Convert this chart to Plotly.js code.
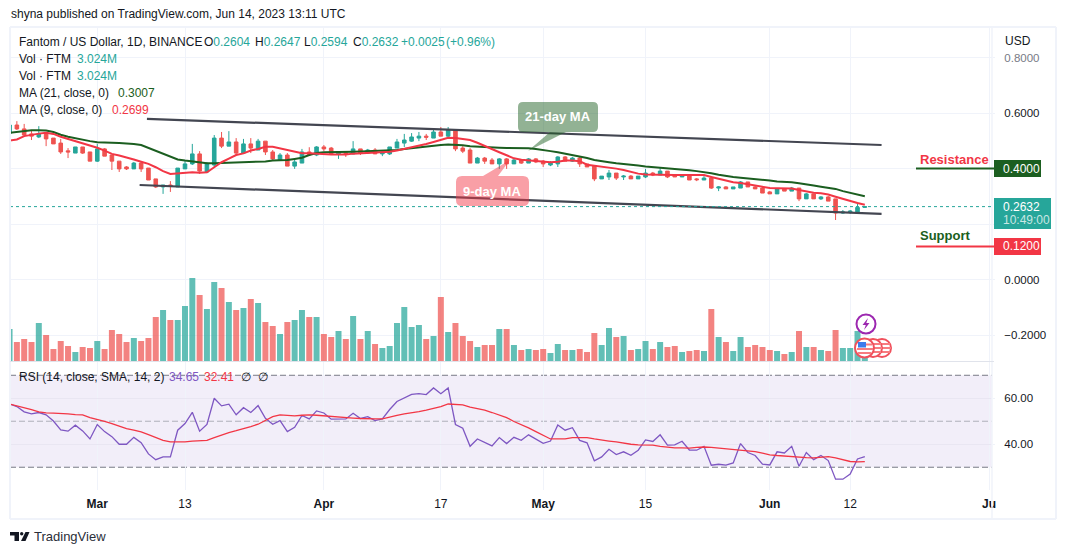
<!DOCTYPE html>
<html><head><meta charset="utf-8">
<script src="https://cdn.plot.ly/plotly-3.0.1.min.js"></script>
<style>html,body{margin:0;padding:0;background:#fff}#c{width:1066px;height:554px}</style>
</head><body><div id="c"></div>
<script>
const startDate = '2023-02-17';
const openP = [.527,.557,.543,.525,.514,.525,.510,.492,.464,.456,.478,.460,.427,.471,.449,.427,.406,.399,.420,.402,.363,.334,.341,.334,.399,.417,.453,.388,.413,.510,.481,.496,.456,.489,.467,.499,.460,.431,.449,.409,.420,.460,.449,.478,.474,.453,.457,.453,.471,.456,.467,.453,.453,.474,.492,.499,.510,.517,.510,.532,.517,.539,.474,.467,.420,.438,.431,.417,.435,.417,.431,.420,.435,.427,.413,.417,.442,.427,.438,.417,.409,.363,.370,.384,.370,.373,.363,.370,.384,.377,.391,.377,.370,.377,.363,.359,.366,.330,.334,.327,.330,.352,.334,.330,.316,.309,.327,.319,.330,.291,.309,.291,.298,.291,.240,.243,.244,.2604];
const highP = [.557,.571,.561,.539,.553,.525,.510,.507,.474,.478,.478,.460,.489,.474,.449,.427,.409,.424,.424,.402,.363,.341,.355,.402,.431,.489,.463,.424,.521,.532,.535,.510,.507,.510,.507,.499,.467,.456,.456,.438,.471,.477,.481,.485,.478,.463,.460,.499,.471,.471,.474,.463,.478,.507,.525,.528,.532,.525,.543,.550,.550,.539,.481,.474,.442,.442,.438,.438,.438,.438,.435,.438,.438,.431,.427,.445,.445,.442,.442,.417,.413,.373,.395,.384,.377,.377,.373,.399,.388,.402,.391,.377,.377,.377,.366,.373,.373,.337,.337,.334,.355,.352,.337,.334,.319,.327,.330,.334,.330,.312,.309,.301,.301,.291,.251,.251,.273,.2647];
const lowP = [.525,.539,.515,.503,.510,.481,.489,.453,.438,.456,.453,.427,.424,.445,.395,.388,.395,.399,.388,.359,.330,.309,.316,.334,.399,.413,.381,.384,.406,.474,.481,.449,.453,.456,.467,.449,.431,.431,.409,.399,.420,.447,.445,.463,.449,.435,.442,.453,.449,.453,.453,.445,.449,.474,.478,.496,.499,.503,.510,.517,.507,.463,.456,.420,.420,.417,.417,.399,.399,.417,.417,.420,.420,.406,.409,.406,.427,.424,.406,.406,.355,.363,.359,.359,.359,.363,.363,.366,.373,.377,.366,.370,.370,.359,.355,.359,.327,.319,.327,.327,.330,.334,.327,.312,.309,.309,.319,.319,.283,.291,.291,.287,.283,.215,.237,.237,.244,.2594];
const closeP = [.557,.543,.521,.517,.525,.507,.489,.460,.460,.478,.456,.427,.471,.445,.427,.399,.399,.420,.399,.359,.334,.341,.337,.402,.417,.453,.391,.417,.510,.481,.496,.456,.489,.474,.499,.460,.435,.449,.409,.424,.460,.450,.478,.471,.453,.460,.453,.471,.456,.467,.453,.460,.478,.496,.503,.514,.517,.513,.532,.517,.539,.471,.463,.420,.438,.427,.417,.435,.417,.431,.420,.435,.424,.417,.420,.442,.427,.438,.417,.406,.363,.373,.384,.366,.373,.363,.373,.384,.377,.391,.370,.370,.377,.359,.360,.366,.330,.334,.327,.334,.352,.334,.327,.312,.309,.327,.319,.330,.291,.309,.291,.298,.283,.240,.244,.247,.2604,.2632];
const volumeM = [8,4.75,5.5,4.75,9.5,6.5,3,5,3.75,2.25,3.5,3.25,5,3,7.75,6.75,4.75,5.75,5,5.75,11,12.75,10.25,10.25,13.75,20.75,16.5,13,19.75,18.25,14.75,12.75,13.25,15.5,14.5,9.75,8.75,6.75,9.75,10.25,12.75,11,11,6.75,6,7.5,5.5,11.25,5.5,7.5,4.25,3.25,3.75,9.5,13.5,8.5,9,5.5,6.25,16,7.25,9.5,6.25,5,3.5,4,4,8,8,4,2.75,3,2.75,3,2,4.25,2.75,2.75,3,2.25,7,4,8.25,6,6.25,2.75,3,5,3,4.75,3.5,3.75,2.25,2.5,2.75,2.5,13,6,4.75,2.5,6,3.5,4,3.5,2.75,2.5,1.75,2.25,7.5,3.5,3.5,2.75,2.5,7.75,3.25,3.25,7.5,3.024];
const ma21 = [.529,.532,.537,.538,.538,.537,.532,.522,.515,.509,.505,.499,.495,.493,.493,.492,.491,.489,.485,.475,.465,.455,.443,.433,.429,.425,.421,.419,.419,.420,.420,.421,.423,.425,.425,.426,.429,.429,.431,.435,.439,.449,.456,.459,.459,.459,.460,.461,.462,.463,.463,.465,.465,.467,.471,.474,.478,.480,.483,.485,.487,.486,.484,.481,.479,.478,.477,.475,.474,.474,.473,.473,.471,.468,.463,.459,.454,.450,.445,.438,.431,.426,.423,.419,.417,.413,.411,.408,.406,.403,.401,.399,.396,.394,.391,.388,.383,.378,.373,.370,.367,.365,.363,.359,.357,.354,.353,.351,.347,.342,.339,.335,.331,.327,.319,.313,.307,.3007];
const ma9 = [.501,.505,.517,.522,.526,.529,.525,.515,.507,.501,.493,.483,.475,.465,.453,.447,.441,.433,.425,.417,.405,.391,.381,.383,.385,.387,.385,.387,.405,.423,.436,.449,.455,.465,.471,.479,.479,.473,.467,.459,.455,.455,.453,.453,.451,.451,.451,.454,.455,.456,.457,.459,.461,.465,.471,.475,.481,.489,.496,.503,.511,.510,.507,.503,.493,.481,.471,.459,.448,.437,.432,.430,.429,.425,.423,.425,.429,.429,.427,.414,.411,.407,.403,.400,.395,.389,.382,.379,.378,.377,.377,.377,.377,.377,.377,.377,.370,.363,.357,.351,.348,.343,.340,.334,.330,.329,.329,.328,.323,.318,.313,.311,.307,.299,.291,.282,.276,.2699];
const rsi = [57.5,56.4,54.1,53.2,53.8,52.8,50.1,46.2,45.7,48.3,45.8,42.3,48.6,45.5,43.3,40,40,43.0,40.7,35.8,33.3,34.5,34.5,46.1,49.0,53.9,45.7,48.6,60,56.7,57.4,52.8,55.9,53.8,56.8,51.3,48.7,50.3,45.5,47.4,52.5,51.0,54.5,53.6,50.9,51.0,51.0,53.5,51.2,52.0,50.3,51.0,55.1,58.6,60,61.7,62.0,61.6,64.5,62.0,64.5,48.6,47.0,39.1,42.3,40.9,39.3,42.9,40.3,43.0,41.7,44.1,42.3,40.4,41.4,48.4,46.1,47.2,41.7,40.6,32.8,34.5,37.8,35.5,36.7,35.2,37.4,41.9,41.2,44.1,39.6,39.7,41.3,37.5,37.4,39.1,30.9,31.3,30.9,31.9,40.3,36.4,35.1,31.3,31.0,36.7,36.2,39.1,30.4,36.4,33.3,35.1,32.9,24.8,24.8,27.0,33.6,34.65];
const rsiMa = [57.5,56.8,55.8,55.1,54.1,53.6,53.5,53.5,53.2,52.9,52.8,51.6,50.6,49.9,49.0,47.8,46.8,46.1,45.4,44.2,42.8,41.7,41.0,40.9,41.0,41.4,41.7,41.7,42.9,44.1,45.1,45.9,46.7,47.7,48.7,50.3,52.0,52.8,52.6,52.3,52.6,52.8,52.6,52.3,52.0,51.7,51.6,51.4,51.2,51.0,51.0,51.0,51.9,52.6,53.2,53.6,54.2,54.8,55.5,56.4,57.5,57.4,57.1,56.1,55.5,54.8,53.8,52.8,51.6,49.9,48.6,47.1,45.5,43.9,42.3,42.3,42.3,42.9,42.9,42.9,42.3,41.7,41.4,41.0,40.4,40.0,39.7,39.7,39.6,39.1,38.7,38.4,38.4,38.3,38.6,38.8,38.6,38.3,37.8,37.5,37.5,37.2,36.8,36.1,35.4,35.1,34.8,34.8,34.3,34.2,34.1,34.5,34.6,34.1,33.2,32.5,32.3,32.41];
const upperChannelX = ['2023-03-07 19:00','2023-06-16 07:00'];
const upperChannelY = [.579,.485];
const lowerChannelX = ['2023-03-06 19:00','2023-06-16 07:00'];
const lowerChannelY = [.341,.237];
const tickDates = ['2023-03-01','2023-03-13','2023-04-01','2023-04-17','2023-05-01','2023-05-15','2023-06-01','2023-06-12','2023-07-01'];
const tickLabels = ['<b>Mar</b>','13','<b>Apr</b>','17','<b>May</b>','15','<b>Jun</b>','12','<b>Ju</b>'];
const priceTicks = [-.2,0,.2,.4,.6,.8];
const priceTickLabels = ['−0.2000','0.0000','0.2000','0.4000','0.6000','<span style="color:#787b86">0.8000</span>'];
const rsiTicks = [40,60];
const rsiTickLabels = ['40.00','60.00'];
const resistanceLevel = 0.4, supportLevel = 0.12, lastClose = 0.2632;

const UP='#26a69a', DOWN='#ef5350', RED='#f23645', GREEN='#1b5e20', INK='#131722', FONT='"Liberation Sans", Arial, sans-serif';
const dates = openP.map((_,i)=>{const d=new Date(Date.parse(startDate+'T00:00:00Z')+i*864e5);return d.toISOString().slice(0,10);});
const volColors = openP.map((o,i)=>closeP[i]>=o?'rgba(38,166,154,.72)':'rgba(239,83,80,.72)');

const X=p=>(p-10)/982, Y=p=>(490-p)/462;
const traces=[
 {type:'bar',x:dates,y:volumeM,marker:{color:volColors,line:{width:0}},width:0.82*864e5,yaxis:'y',xaxis:'x',hoverinfo:'skip'},
 {type:'scatter',mode:'lines',x:upperChannelX,y:upperChannelY,yaxis:'y2',line:{color:'#434651',width:2.2},hoverinfo:'skip'},
 {type:'scatter',mode:'lines',x:lowerChannelX,y:lowerChannelY,yaxis:'y2',line:{color:'#434651',width:2.2},hoverinfo:'skip'},
 {type:'candlestick',x:dates,open:openP,high:highP,low:lowP,close:closeP,yaxis:'y2',whiskerwidth:0,
  increasing:{line:{color:UP,width:1},fillcolor:UP},decreasing:{line:{color:DOWN,width:1},fillcolor:DOWN},hoverinfo:'skip'},
 {type:'scatter',mode:'lines',x:dates,y:ma21,yaxis:'y2',line:{color:GREEN,width:2},hoverinfo:'skip'},
 {type:'scatter',mode:'lines',x:dates,y:ma9,yaxis:'y2',line:{color:RED,width:2},hoverinfo:'skip'},
 {type:'scatter',mode:'lines',x:dates,y:rsi,yaxis:'y3',line:{color:'#7e57c2',width:1.3},hoverinfo:'skip'},
 {type:'scatter',mode:'lines',x:dates,y:rsiMa,yaxis:'y3',line:{color:RED,width:1.3},hoverinfo:'skip'}
];

function rp(l,t,r,b,rad,tail){ // rounded speech box, in page pixels
 const P=(x,y)=>X(x)+' '+Y(y);
 let s='M'+P(l+rad,t);
 if(tail&&tail.side==='top'){s+='L'+P(tail.a,t)+'L'+P(tail.tx,tail.ty)+'L'+P(tail.b,t);}
 s+='L'+P(r-rad,t)+'Q'+P(r,t)+' '+P(r,t+rad)+'L'+P(r,b-rad)+'Q'+P(r,b)+' '+P(r-rad,b);
 if(tail&&tail.side==='bottom'){s+='L'+P(tail.b,b)+'L'+P(tail.tx,tail.ty)+'L'+P(tail.a,b);}
 s+='L'+P(l+rad,b)+'Q'+P(l,b)+' '+P(l,b-rad)+'L'+P(l,t+rad)+'Q'+P(l,t)+' '+P(l+rad,t)+'Z';
 return s;
}
const rectPx=(l,t,r,b,fill,layer)=>({type:'rect',xref:'paper',yref:'paper',x0:X(l),x1:X(r),y0:Y(b),y1:Y(t),fillcolor:fill,line:{width:0},layer:layer||'above'});
const linePx=(x0,y0,x1,y1,color,w)=>({type:'line',xref:'paper',yref:'paper',x0:X(x0),x1:X(x1),y0:Y(y0),y1:Y(y1),line:{color,width:w},layer:'above'});
const pathPx=(d,fill,lineCol,w)=>({type:'path',xref:'paper',yref:'paper',path:d,fillcolor:fill,line:{color:lineCol||'rgba(0,0,0,0)',width:w||0},layer:'above'});
const circ=(cx,cy,r,fill,col,w)=>({type:'circle',xref:'paper',yref:'paper',x0:X(cx-r),x1:X(cx+r),y0:Y(cy+r),y1:Y(cy-r),fillcolor:fill,line:{color:col,width:w},layer:'above'});
const poly=pts=>'M'+pts.map(p=>X(p[0])+' '+Y(p[1])).join('L')+'Z';

const shapes=[
 // RSI band and guides
 {type:'rect',xref:'paper',yref:'y3',x0:0,x1:1,y0:30,y1:70,fillcolor:'rgba(126,87,194,.1)',line:{width:0},layer:'below'},
 {type:'line',xref:'paper',yref:'y3',x0:0,x1:1,y0:70,y1:70,line:{color:'#787b86',width:1,dash:'6px,3px'},layer:'below'},
 {type:'line',xref:'paper',yref:'y3',x0:0,x1:1,y0:30,y1:30,line:{color:'#787b86',width:1,dash:'6px,3px'},layer:'below'},
 {type:'line',xref:'paper',yref:'y3',x0:0,x1:1,y0:50,y1:50,line:{color:'rgba(120,123,134,.55)',width:1,dash:'6px,3px'},layer:'below'},
 // last price
 {type:'line',xref:'paper',yref:'y2',x0:0,x1:1,y0:lastClose,y1:lastClose,line:{color:UP,width:1,dash:'dot'},layer:'above'},
 // frame
 linePx(10,27,1056,27,'#f0f3fa',2),linePx(10,519,1056,519,'#f0f3fa',2),linePx(10,27,10,519,'#f0f3fa',2),linePx(1056,27,1056,519,'#f0f3fa',2),
 linePx(992,27,992,519,'#f0f3fa',1.5),linePx(10,361.5,994,361.5,'#e0e3eb',1),
 // resistance / support
 {type:'line',xref:'paper',yref:'y2',x0:X(916),x1:X(994),y0:resistanceLevel,y1:resistanceLevel,line:{color:GREEN,width:2},layer:'above'},
 {type:'line',xref:'paper',yref:'y2',x0:X(916),x1:X(994),y0:supportLevel,y1:supportLevel,line:{color:RED,width:2},layer:'above'},
 rectPx(994,160,1041,177,GREEN),rectPx(994,238,1041,255,RED),rectPx(994,198,1051,229,UP),
 // callouts
 pathPx(rp(518,102,598,132,5,{side:'bottom',a:550,b:566,tx:528,ty:151}),'rgba(27,94,32,.48)'),
 pathPx(rp(456,176,529,206,6,{side:'top',a:483,b:498,tx:510,ty:160}),'rgba(242,54,69,.48)'),
 // flag markers, back to front
 circ(882,348,9,'#fff','#f0505c',2),linePx(878,344,890,344,'#f77c80',2),linePx(878,348,891,348,'#f77c80',2),linePx(878,352,890,352,'#f77c80',2),
 circ(873,348,9,'#fff','#f0505c',2),linePx(869,344,881,344,'#f77c80',2),linePx(869,348,882,348,'#f77c80',2),linePx(869,352,881,352,'#f77c80',2),
 circ(864.5,348,9.5,'#fff','#f0505c',2),linePx(862,344.5,872,344.5,'#f77c80',2),linePx(857,349,873,349,'#f77c80',2),linePx(858,353,871,353,'#f77c80',2),
 rectPx(858,342,866,347.5,'#3d7bec'),
 // lightning marker
 circ(866,324,9.5,'#fff','#9c27b0',2),
 pathPx(poly([[868,318],[862.5,325],[865.8,325],[864,330],[869.5,323],[866.3,323]]),'#9c27b0'),
 // TradingView mark
 pathPx(poly([[10,532],[19,532],[19,541],[14.5,541],[14.5,535.5],[10,535.5]]),INK),
 circ(21.7,533.8,1.7,INK,INK,0),
 pathPx(poly([[25.5,532],[29.5,532],[25.5,541],[21,541]]),INK)
];

const ann=(x,y,text,o={})=>Object.assign({xref:'paper',yref:'paper',x:X(x),y:Y(y),text,showarrow:false,xanchor:'left',yanchor:'middle',borderpad:0,
  font:{family:FONT,size:o.size||12,color:o.color||INK}},o.extra||{});
const c=(t,col)=>`<span style="color:${col}">${t}</span>`;
const annotations=[
 ann(10,14,'shyna published on TradingView.com, Jun 14, 2023 13:11 UTC'),
 ann(18,42,'Fantom / US Dollar, 1D, BINANCE'),
 ann(203,42,'O'+c('0.2604',UP)),ann(254,42,'H'+c('0.2647',UP)),ann(303,42,'L'+c('0.2594',UP)),ann(352,42,'C'+c('0.2632',UP)),
 ann(400,42,c('+0.0025',UP)),ann(445,42,c('(+0.96%)',UP)),
 ann(18,59,'Vol · FTM'),ann(76,59,c('3.024M',UP)),
 ann(18,76,'Vol · FTM'),ann(76,76,c('3.024M',UP)),
 ann(18,93,'MA (21, close, 0)'),ann(117,93,c('0.3007',GREEN)),
 ann(18,110,'MA (9, close, 0)'),ann(111,110,c('0.2699',RED)),
 ann(18,377,'RSI (14, close, SMA, 14, 2)'),ann(168,377,c('34.65','#7e57c2')),ann(203,377,c('32.41',RED)),ann(240,377,'∅'),ann(257,377,'∅'),
 ann(1004,41,'USD'),
 ann(1002,168.5,'0.4000',{color:'#fff'}),ann(1002,246.5,'0.1200',{color:'#fff'}),ann(1002,207,'0.2632',{color:'#fff'}),ann(1002,220,'10:49:00',{color:'rgba(255,255,255,.75)'}),
 ann(919,159,'<b>Resistance</b>',{color:RED,size:13}),ann(919,235,'<b>Support</b>',{color:GREEN,size:13}),
 ann(558,117,'<b>21-day MA</b>',{color:'#fff',size:13,extra:{xanchor:'center'}}),
 ann(492,191,'<b>9-day MA</b>',{color:'#fff',size:13,extra:{xanchor:'center'}}),
 ann(33,536,'TradingView',{size:13,color:'#2a2e39'})
];

const layout={
 width:1066,height:554,paper_bgcolor:'#fff',plot_bgcolor:'#fff',showlegend:false,hovermode:false,dragmode:false,
 margin:{l:10,r:74,t:28,b:64,pad:0},barmode:'overlay',font:{family:FONT,size:11.5,color:INK},
 xaxis:{type:'date',domain:[0,1],range:['2023-02-17 01:26','2023-07-01 09:36'],tickmode:'array',tickvals:tickDates,ticktext:tickLabels,
  showgrid:true,gridcolor:'#f0f3fa',gridwidth:1,zeroline:false,showline:false,ticks:'',rangeslider:{visible:false},anchor:'y3',tickfont:{family:FONT,size:12,color:INK},ticklabelstandoff:5},
 yaxis:{domain:[.2792,1],range:[0,83.25],visible:false,anchor:'x',fixedrange:true},
 yaxis2:{overlaying:'y',side:'right',anchor:'x',range:[-.2928,.9064],tickmode:'array',tickvals:priceTicks,ticktext:priceTickLabels,
  showgrid:true,gridcolor:'#f0f3fa',gridwidth:1,zeroline:false,showline:false,ticks:'outside',ticklen:2,tickcolor:'#f0f3fa',ticklabelstandoff:7,tickfont:{family:FONT,size:11.5,color:INK}},
 yaxis3:{domain:[0,.2792],side:'right',anchor:'x',range:[20.1,76.2],tickmode:'array',tickvals:rsiTicks,ticktext:rsiTickLabels,
  showgrid:true,gridcolor:'#e9e6f2',gridwidth:1,zeroline:false,showline:false,ticks:'outside',ticklen:2,tickcolor:'#f0f3fa',ticklabelstandoff:7,tickfont:{family:FONT,size:11.5,color:INK}},
 shapes,annotations
};
Plotly.newPlot('c',traces,layout,{displayModeBar:false,staticPlot:true});
</script></body></html>
